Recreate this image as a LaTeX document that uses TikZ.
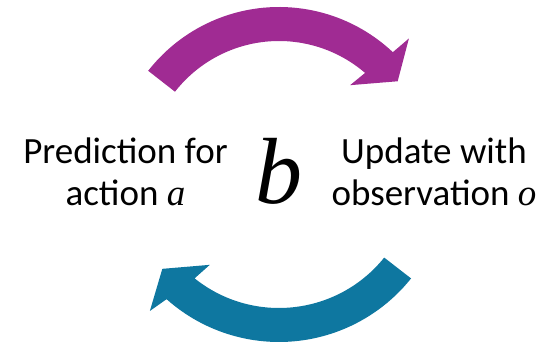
\documentclass[tikz,border=0pt]{standalone}
\usepackage{fontspec}
\setmainfont{Carlito}
\newfontfamily\mathfnt{Liberation Serif}
\usepackage{tikz}
\definecolor{topcol}{HTML}{A02B93}
\definecolor{botcol}{HTML}{0E77A0}
\newcommand{\var}[1]{{\mathfnt\itshape #1}}
\begin{document}
\begin{tikzpicture}[
  x=1pt,y=1pt,
  lbl/.style={font=\fontsize{37}{42}\selectfont,align=center,inner sep=0pt},
  big/.style={font=\fontsize{94}{94}\selectfont,inner sep=0pt}
]
  \useasboundingbox (0,0) rectangle (552,345);
  \coordinate (c) at (279,172);

  % upper arrow
  \fill[topcol] ([shift={(142:166)}]c) arc[start angle=142,end angle=46.7,radius=166]
    -- ([shift={(46:187)}]c) -- ([shift={(37.7:150)}]c) -- ([shift={(51:113)}]c)
    -- ([shift={(49.3:132)}]c) arc[start angle=49.3,end angle=142,radius=132] -- cycle;
  % lower arrow
  \fill[botcol] ([shift={(-38.6:169)}]c) arc[start angle=-38.6,end angle=-131.7,radius=169]
    -- ([shift={(-133.1:189)}]c) -- ([shift={(-140.6:151)}]c) -- ([shift={(-127:115)}]c)
    -- ([shift={(-128.7:135)}]c) arc[start angle=-128.7,end angle=-38.8,radius=135] -- cycle;

  \node[lbl] (pred) at (125.5,173) {Prediction for\\action \var{a}};
  \node[lbl] (upd) at (434,173) {Update with\\observation \var{o}};
  \node[big,anchor=base] (belief) at (279,141) {\var{b}};
\end{tikzpicture}
\end{document}
